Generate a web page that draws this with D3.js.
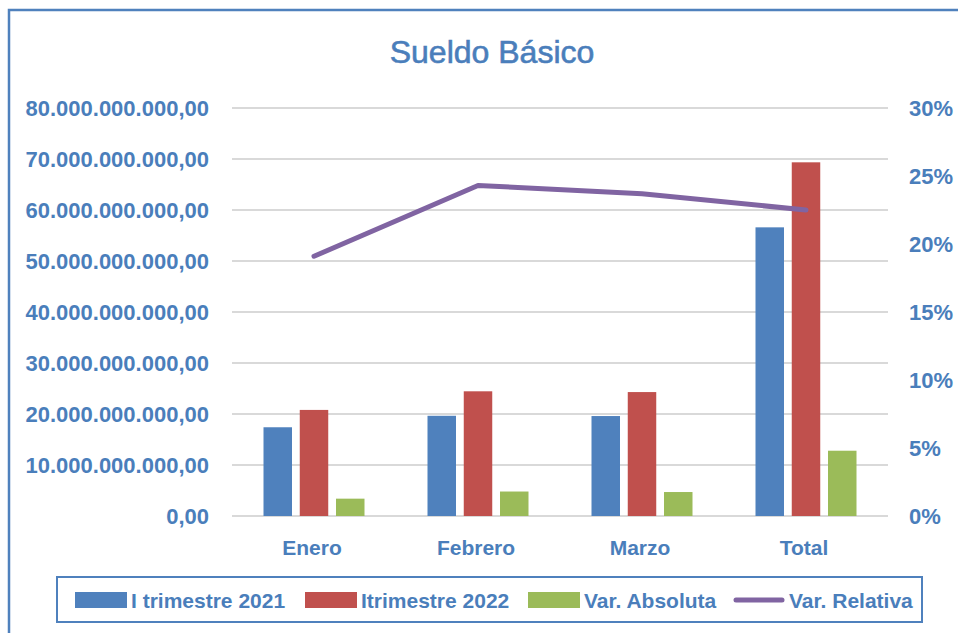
<!DOCTYPE html>
<html>
<head>
<meta charset="utf-8">
<script src="https://cdn.jsdelivr.net/npm/d3@7"></script>
<style>
  body { margin: 0; background: #fff; }
  text { font-family: "Liberation Sans", Arial, sans-serif; fill: #4a7ebb; }
</style>
</head>
<body>
<script>
// data
var categories = ["Enero", "Febrero", "Marzo", "Total"];
var seriesNames = ["I trimestre 2021", "Itrimestre 2022", "Var. Absoluta"];
var trimestre2021 = [17.4e9, 19.65e9, 19.6e9, 56.6e9];
var trimestre2022 = [20.8e9, 24.45e9, 24.3e9, 69.35e9];
var varAbsoluta = [3.4e9, 4.8e9, 4.7e9, 12.8e9];
var varRelativa = [0.191, 0.243, 0.237, 0.225];
var leftTicks = [0, 10e9, 20e9, 30e9, 40e9, 50e9, 60e9, 70e9, 80e9];
var rightTicks = [0, 0.05, 0.10, 0.15, 0.20, 0.25, 0.30];

var colors = ["#4f81bd", "#c0504d", "#9bbb59"];
var lineColor = "#8064a2";

var width = 958, height = 633;
var plotLeft = 232, plotRight = 888, plotTop = 108, plotBottom = 516;

var svg = d3.select("body").append("svg")
  .attr("width", width)
  .attr("height", height);

// outer frame (right and bottom edge fall outside the picture)
svg.append("rect")
  .attr("x", 9).attr("y", 10)
  .attr("width", 1000).attr("height", 700)
  .attr("fill", "#fff")
  .attr("stroke", "#4f81bd")
  .attr("stroke-width", 2.5);

// scales
var x = d3.scaleBand()
  .domain(categories)
  .range([plotLeft, plotRight]);

var xSeries = d3.scaleBand()
  .domain(seriesNames)
  .range([31.5, 132.5])
  .paddingInner(0.214);

var yLeft = d3.scaleLinear().domain([0, 80e9]).range([plotBottom, plotTop]);
var yRight = d3.scaleLinear().domain([0, 0.30]).range([plotBottom, plotTop]);

var es = d3.formatLocale({ decimal: ",", thousands: ".", grouping: [3], currency: ["", ""] });
var fmtLeft = es.format(",.2f");
var fmtRight = d3.format(".0%");

// title
svg.append("text")
  .attr("x", 492).attr("y", 63)
  .attr("text-anchor", "middle")
  .style("font-size", "32px")
  .style("stroke", "#4a7ebb")
  .style("stroke-width", 0.6)
  .text("Sueldo Básico");

// gridlines
svg.append("g")
  .selectAll("line")
  .data(leftTicks)
  .enter().append("line")
  .attr("x1", plotLeft).attr("x2", plotRight)
  .attr("y1", d => yLeft(d)).attr("y2", d => yLeft(d))
  .attr("stroke", "#d9d9d9")
  .attr("stroke-width", 2);

// left axis labels
svg.append("g")
  .selectAll("text")
  .data(leftTicks)
  .enter().append("text")
  .attr("x", 209)
  .attr("y", d => yLeft(d))
  .attr("dy", "0.36em")
  .attr("text-anchor", "end")
  .style("font-size", "22px")
  .style("font-weight", "bold")
  .text(d => fmtLeft(d));

// right axis labels
svg.append("g")
  .selectAll("text")
  .data(rightTicks)
  .enter().append("text")
  .attr("x", 909)
  .attr("y", d => yRight(d))
  .attr("dy", "0.36em")
  .style("font-size", "22px")
  .style("font-weight", "bold")
  .text(d => fmtRight(d));

// category labels
svg.append("g")
  .selectAll("text")
  .data(categories)
  .enter().append("text")
  .attr("x", d => x(d) + x.bandwidth() / 2 - 2)
  .attr("y", 555)
  .attr("text-anchor", "middle")
  .style("font-size", "21px")
  .style("font-weight", "bold")
  .text(d => d);

// bars
var barSeries = [trimestre2021, trimestre2022, varAbsoluta];
barSeries.forEach(function(values, s) {
  svg.append("g")
    .selectAll("rect")
    .data(values)
    .enter().append("rect")
    .attr("x", (d, i) => x(categories[i]) + xSeries(seriesNames[s]))
    .attr("y", d => yLeft(d))
    .attr("width", xSeries.bandwidth())
    .attr("height", d => yLeft(0) - yLeft(d))
    .attr("fill", colors[s]);
});

// relative variation line
var line = d3.line()
  .x((d, i) => x(categories[i]) + x.bandwidth() / 2)
  .y(d => yRight(d));

svg.append("path")
  .datum(varRelativa)
  .attr("d", line)
  .attr("fill", "none")
  .attr("stroke", lineColor)
  .attr("stroke-width", 5)
  .attr("stroke-linecap", "round")
  .attr("stroke-linejoin", "round");

// legend
var legend = svg.append("g");
legend.append("rect")
  .attr("x", 57).attr("y", 577)
  .attr("width", 865).attr("height", 45)
  .attr("fill", "#fff")
  .attr("stroke", "#4f81bd")
  .attr("stroke-width", 2);

var legendItems = [
  { name: "I trimestre 2021", x: 75, type: "bar", color: colors[0] },
  { name: "Itrimestre 2022", x: 305, type: "bar", color: colors[1] },
  { name: "Var. Absoluta", x: 528, type: "bar", color: colors[2] },
  { name: "Var. Relativa", x: 733, type: "line", color: lineColor }
];

legendItems.forEach(function(item) {
  if (item.type == "bar") {
    legend.append("rect")
      .attr("x", item.x).attr("y", 592)
      .attr("width", 52).attr("height", 16)
      .attr("fill", item.color);
  } else {
    legend.append("line")
      .attr("x1", item.x + 3).attr("x2", item.x + 49)
      .attr("y1", 600).attr("y2", 600)
      .attr("stroke", item.color)
      .attr("stroke-width", 5)
      .attr("stroke-linecap", "round");
  }
  legend.append("text")
    .attr("x", item.x + 56)
    .attr("y", 608)
    .style("font-size", "21px")
    .style("font-weight", "bold")
    .text(item.name);
});
</script>
</body>
</html>
